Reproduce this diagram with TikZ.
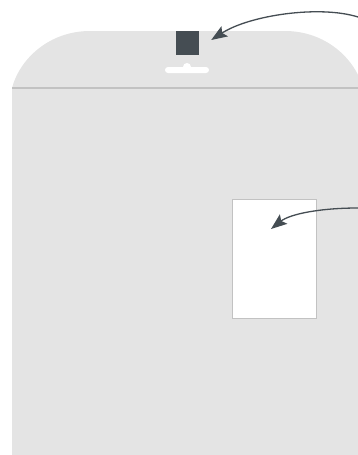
\documentclass[tikz,border=0pt]{standalone}
\usetikzlibrary{arrows.meta}
\definecolor{bagfill}{HTML}{E4E4E4}
\definecolor{seam}{HTML}{C2C2C2}
\definecolor{slate}{HTML}{454D53}
\begin{document}
\begin{tikzpicture}[x=1pt,y=-1pt,
  tab/.style={fill=slate,minimum width=23pt,minimum height=24pt,inner sep=0pt},
  window/.style={draw=seam,fill=white,line width=0.9pt,minimum width=84pt,minimum height=119pt,inner sep=0pt},
  callout/.style={draw=slate,line width=1.3pt,-{Stealth[length=16pt,width=12pt,inset=3pt]}}]

\useasboundingbox (0,0) rectangle (358,455);
\clip (0,0) rectangle (358,455);

% ---------- bag ----------
\fill[bagfill] (12,455) -- (12,88) .. controls (20,58) and (50,31) .. (90,31)
  -- (285,31) .. controls (325,31) and (355,58) .. (363,88) -- (363,455) -- cycle;
\draw[seam,line width=1.2pt] (12,88) -- (363,88);

% hang hole
\fill[white,rounded corners=3pt] (165,67) rectangle (209,73);
\fill[white] (187,67) circle[radius=4];

% ---------- header tab and window ----------
\node[tab] (tab) at (187.5,43) {};
\node[window] (win) at (274,258.5) {};

% ---------- callouts ----------
\coordinate (tabnote) at (358,17);
\coordinate (winnote) at (358,208);
\coordinate (winmark) at (271,229);
\draw[callout] (tabnote) .. controls (320,5) and (250,15) .. ([xshift=12pt,yshift=3pt]tab.east);
\draw[callout] (winnote) .. controls (320,208) and (290,214) .. (winmark);
\end{tikzpicture}
\end{document}
